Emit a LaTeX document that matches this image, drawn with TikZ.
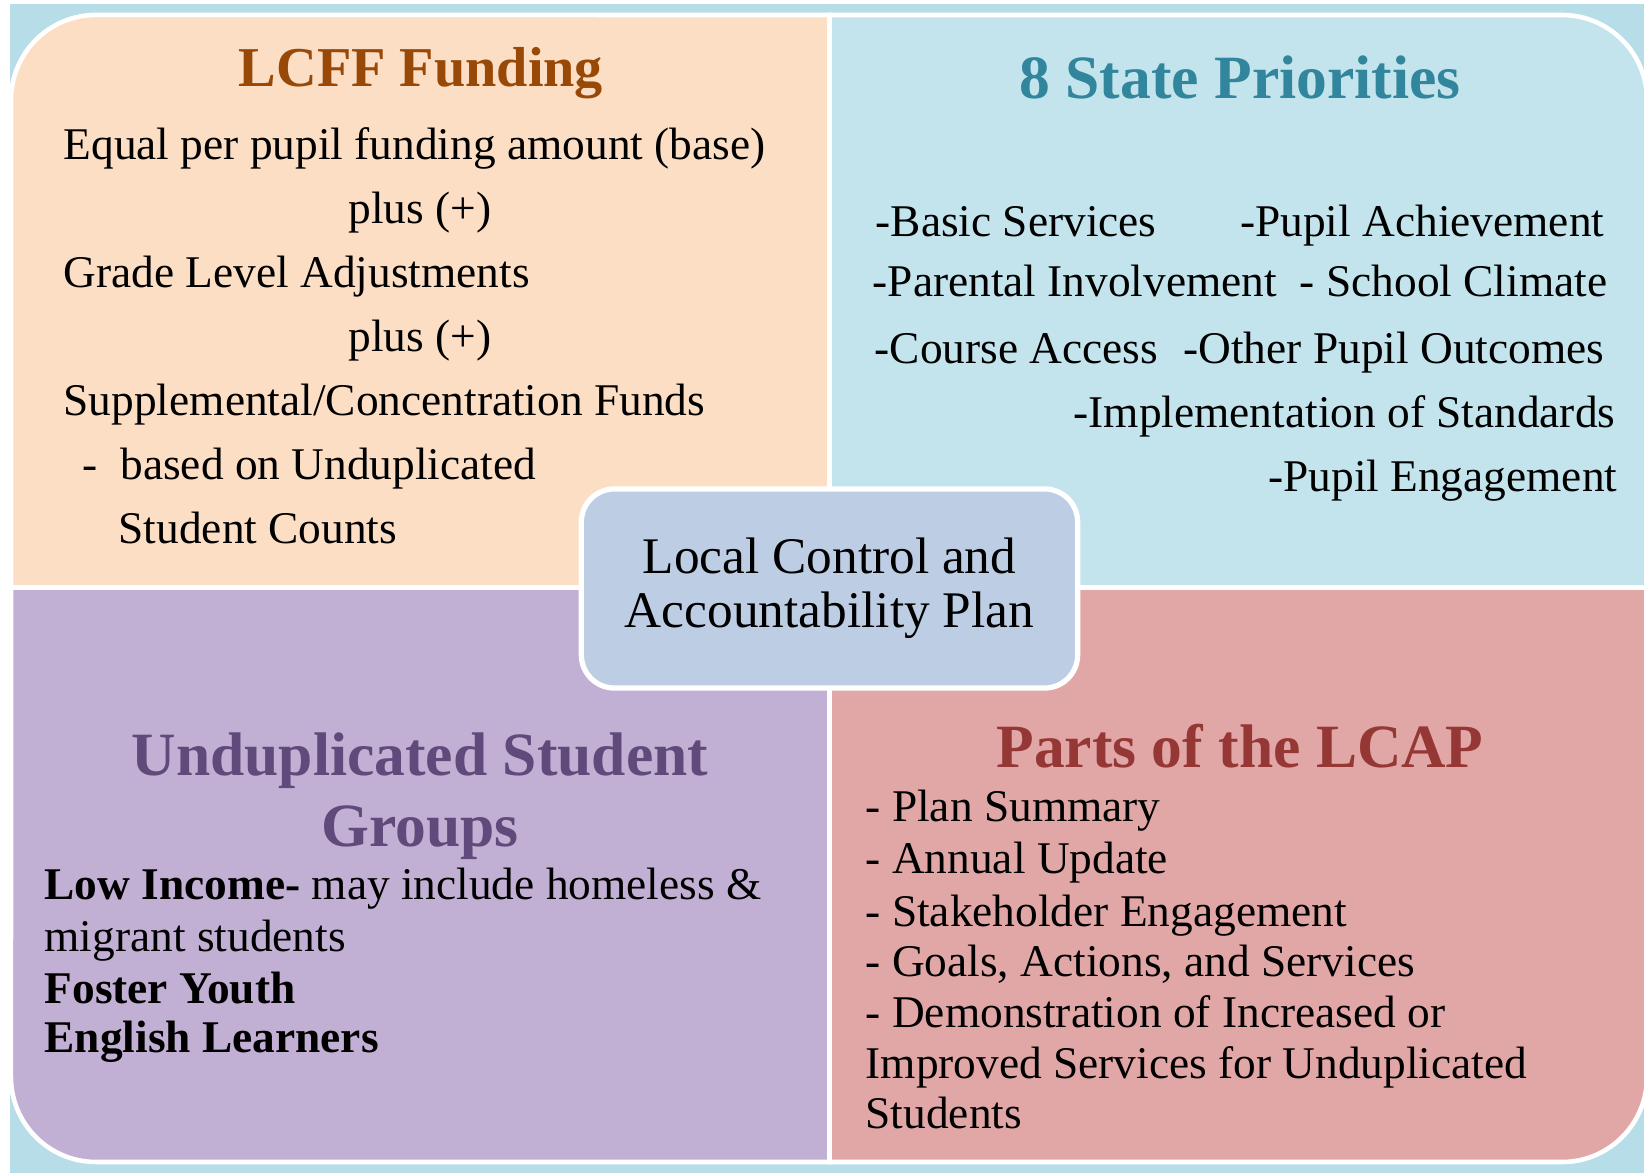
\documentclass[tikz,border=0pt]{standalone}
\usepackage{fontspec}
\setmainfont{Liberation Serif}
\usetikzlibrary{positioning}
\definecolor{bgblue}{HTML}{B7DDE8}
\definecolor{peach}{HTML}{FBDEC4}
\definecolor{skyfill}{HTML}{C3E4EC}
\definecolor{lavender}{HTML}{C1B0D3}
\definecolor{rosefill}{HTML}{E1A7A6}
\definecolor{planfill}{HTML}{BDCDE3}
\definecolor{brownhead}{HTML}{984807}
\definecolor{tealhead}{HTML}{31859C}
\definecolor{purplehead}{HTML}{604A7B}
\definecolor{redhead}{HTML}{953735}
\tikzset{
    quad/.style={draw=white, line width=1.3pt},
    body/.style={inner sep=0pt, font=\fontsize{12.9pt}{15pt}\selectfont},
    head/.style={inner sep=0pt, anchor=base, font=\fontsize{17.5pt}{20pt}\selectfont\bfseries},
    planbox/.style={draw=white, line width=1.5pt, fill=planfill, rounded corners=0.33cm,
        minimum width=4.96cm, minimum height=1.99cm, align=center,
        font=\fontsize{14.6pt}{15.4pt}\selectfont}
}

\begin{document}
\begin{tikzpicture}[x=0.01cm, y=0.01cm]
    \useasboundingbox (0,0) rectangle (1644,1173);
    % Background
    \fill[bgblue] (10,0) rectangle (1644,1169);

    % Quadrants
    \filldraw[quad, fill=peach] (11,585.5) -- (11,1073) arc[start angle=180, end angle=90, radius=0.85cm]
        -- (829.5,1158) -- (829.5,585.5) -- cycle;
    \filldraw[quad, fill=skyfill] (829.5,585.5) -- (829.5,1158) -- (1562,1158)
        arc[start angle=90, end angle=0, radius=0.85cm] -- (1647,585.5) -- cycle;
    \filldraw[quad, fill=lavender] (11,585.5) -- (829.5,585.5) -- (829.5,11) -- (96,11)
        arc[start angle=270, end angle=180, radius=0.85cm] -- cycle;
    \filldraw[quad, fill=rosefill] (829.5,585.5) -- (1647,585.5) -- (1647,96)
        arc[start angle=0, end angle=-90, radius=0.85cm] -- (829.5,11) -- cycle;

    % LCFF Funding
    \node[head, font=\fontsize{16pt}{20pt}\selectfont\bfseries, text=brownhead] (lcff) at (421,1086) {LCFF Funding};
    \node[body, anchor=base west] (lcffa) at (63,1013) {Equal per pupil funding amount (base)};
    \node[body, anchor=base] (plusa) at (420,949) {plus (+)};
    \node[body, anchor=base west] (lcffb) at (63,885) {Grade Level Adjustments};
    \node[body, anchor=base] (plusb) at (420,821) {plus (+)};
    \node[body, anchor=base west] (lcffc) at (63,757) {Supplemental/Concentration Funds};
    \node[body, anchor=base west] (lcffd) at (82,693) {-\ \ based on Unduplicated};
    \node[body, anchor=base west] (lcffe) at (118,629) {Student Counts};

    % 8 State Priorities
    \node[head, text=tealhead] (prio) at (1240,1074) {8 State Priorities};
    \node[body, anchor=base west] (basic) at (875,936) {-Basic Services};
    \node[body, anchor=base east] (achieve) at (1605,936) {-Pupil Achievement};
    \node[body, anchor=base west] (parent) at (872,876) {-Parental Involvement};
    \node[body, anchor=base east] (climate) at (1608,876) {- School Climate};
    \node[body, anchor=base west] (course) at (874,809) {-Course Access};
    \node[body, anchor=base east] (outcome) at (1605,809) {-Other Pupil Outcomes};
    \node[body, anchor=base east] (standard) at (1616,745) {-Implementation of Standards};
    \node[body, anchor=base east] (engage) at (1618,681) {-Pupil Engagement};

    % Unduplicated Student Groups
    \node[head, text=purplehead] (groups) at (420,397) {Unduplicated Student};
    \node[head, text=purplehead] (groupsb) at (420,326) {Groups};
    \node[body, anchor=base west] (income) at (44,273) {\textbf{Low Income-} may include homeless \&};
    \node[body, anchor=base west] (migrant) at (44,221) {migrant students};
    \node[body, anchor=base west] (foster) at (44,169) {\textbf{Foster Youth}};
    \node[body, anchor=base west] (learner) at (44,120) {\textbf{English Learners}};

    % Parts of the LCAP
    \node[head, text=redhead] (parts) at (1240,405) {Parts of the LCAP};
    \node[body, anchor=base west] (summary) at (865,351) {- Plan Summary};
    \node[body, anchor=base west] (update) at (865,299) {- Annual Update};
    \node[body, anchor=base west] (stake) at (865,246) {- Stakeholder Engagement};
    \node[body, anchor=base west] (goals) at (865,196) {- Goals, Actions, and Services};
    \node[body, anchor=base west] (demo) at (865,145) {- Demonstration of Increased or};
    \node[body, anchor=base west] (demob) at (865,94) {Improved Services for Unduplicated};
    \node[body, anchor=base west] (democ) at (865,44) {Students};

    % Center plan
    \node[planbox] (lcap) at (829.5,584.5) {Local Control and\\Accountability Plan};
\end{tikzpicture}
\end{document}
